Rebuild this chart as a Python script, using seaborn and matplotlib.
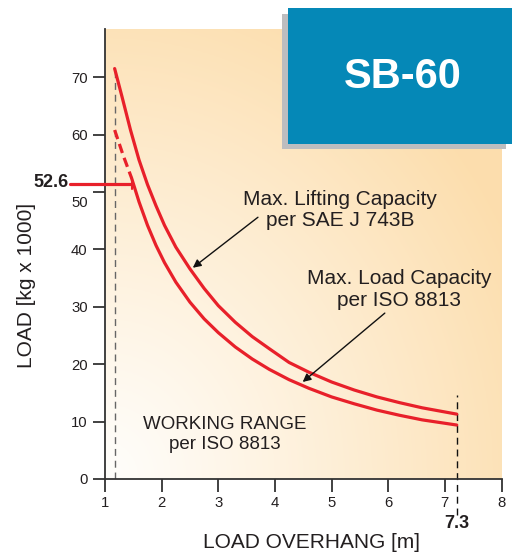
import numpy as np
import pandas as pd
import seaborn as sns
import matplotlib.pyplot as plt
import matplotlib.transforms as mtransforms
from matplotlib.patches import Rectangle

# values
sae_x = [1.17, 1.30, 1.45, 1.60, 1.75, 1.90, 2.05, 2.25, 2.50, 2.75, 3.00, 3.30,
         3.60, 3.90, 4.25, 4.60, 5.00, 5.40, 5.80, 6.20, 6.60, 7.21]
sae_y = [71.5, 66.6, 60.8, 55.6, 51.3, 47.6, 44.2, 40.4, 36.6, 33.2, 30.2, 27.3,
         24.8, 22.7, 20.3, 18.6, 16.9, 15.5, 14.3, 13.3, 12.4, 11.3]

iso_dash_x = [1.17, 1.32, 1.47]
iso_dash_y = [60.8, 56.4, 52.4]
iso_x = [1.47, 1.60, 1.75, 1.90, 2.05, 2.25, 2.50, 2.75, 3.00, 3.30, 3.60, 3.90,
         4.25, 4.60, 5.00, 5.40, 5.80, 6.20, 6.60, 7.21]
iso_y = [52.4, 48.3, 44.2, 40.7, 37.7, 34.3, 30.8, 27.9, 25.5, 23.0, 20.9, 19.1,
         17.3, 15.8, 14.3, 13.1, 12.0, 11.1, 10.3, 9.4]

min_overhang = 1.17
max_overhang = 7.21
marked_load = 51.4
x_ticks = [1, 2, 3, 4, 5, 6, 7, 8]
y_ticks = [0, 10, 20, 30, 40, 50, 60, 70]

sae = pd.DataFrame({"x": sae_x, "y": sae_y})
iso = pd.DataFrame({"x": iso_x, "y": iso_y})
iso_dash = pd.DataFrame({"x": iso_dash_x, "y": iso_dash_y})

sns.set_style("ticks")
plt.rcParams['font.family'] = ['Liberation Sans', 'DejaVu Sans']

RED = "#E8202A"
TXT = "#231F20"

fig = plt.figure(figsize=(5.12, 5.56), dpi=100)
ax = fig.add_axes([0.2051, 0.1385, 0.7744, 0.8094])
ax.set_xlim(1, 8)
ax.set_ylim(0, 78.4)

# background gradient, white bottom-left to light orange top-right
u, v = np.meshgrid(np.linspace(0, 1, 200), np.linspace(0, 1, 200))
t = np.clip(np.sqrt(u ** 2 + v ** 2) / 1.15, 0, 1) ** 1.1
c0 = np.array([1.0, 0.995, 0.985])
c1 = np.array([0.99, 0.87, 0.68])
img = c0 + (c1 - c0) * t[..., None]
ax.imshow(img, extent=[1, 8, 0, 78.4], origin="lower", aspect="auto", zorder=0)

sns.lineplot(data=sae, x="x", y="y", sort=False, estimator=None, color=RED, lw=2.3, ax=ax, zorder=3)
sns.lineplot(data=iso, x="x", y="y", sort=False, estimator=None, color=RED, lw=2.3, ax=ax, zorder=3)
sns.lineplot(data=iso_dash, x="x", y="y", sort=False, estimator=None, color=RED, lw=2.3,
             ax=ax, zorder=3, linestyle=(0, (3, 1.6)))

# limit lines
ax.plot([min_overhang, min_overhang], [0, 71], color="#666666", lw=1, ls=(0, (5, 3.5)), zorder=2)
ax.plot([max_overhang, max_overhang], [-6.2, 14.6], color="#111111", lw=1, ls=(0, (5, 3.5)),
        zorder=2, clip_on=False)

# 52.6 marker
ax.plot([0.38, iso_dash_x[-1]], [marked_load, marked_load], color=RED, lw=2.3, clip_on=False, zorder=4)
ax.plot([iso_dash_x[-1], iso_dash_x[-1]], [marked_load - 0.8, marked_load + 0.8], color=RED, lw=1.5, zorder=4)
ax.text(0.35, marked_load + 0.3, "52.6", ha="right", va="center", fontsize=13, fontweight="bold",
        color=TXT, clip_on=False)
ax.text(max_overhang, -7.7, "7.3", ha="center", va="center", fontsize=13, fontweight="bold",
        color=TXT, clip_on=False)

ax.set_xticks(x_ticks)
ax.set_yticks(y_ticks)
ax.tick_params(axis="both", direction="out", length=9, width=1.3, color="#333333",
               labelsize=10.7, labelcolor=TXT, pad=3.5)
for s in ["top", "right"]:
    ax.spines[s].set_visible(False)
for s in ["left", "bottom"]:
    ax.spines[s].set_color("#333333")
    ax.spines[s].set_linewidth(1.3)

# "50" label sits a bit lower to make room for 52.6
for lab in ax.get_yticklabels():
    if lab.get_text() == "50":
        lab.set_transform(lab.get_transform() + mtransforms.ScaledTranslation(0, -10 / 100, fig.dpi_scale_trans))

ax.set_xlabel("LOAD OVERHANG [m]", fontsize=15, color=TXT)
ax.set_ylabel("LOAD [kg x 1000]", fontsize=15, color=TXT)
ax.yaxis.set_label_coords(-0.175, 0.43)
ax.xaxis.set_label_coords(0.52, -0.12)

# annotations
ax.text(5.15, 46.9, "Max. Lifting Capacity\nper SAE J 743B", ha="center", va="center",
        fontsize=15, color=TXT, linespacing=1.15)
ax.annotate("", xy=(2.55, 36.8), xytext=(3.70, 45.6),
            arrowprops=dict(arrowstyle="-|>", color="#111111", lw=1, mutation_scale=12,
                            shrinkA=0, shrinkB=0))
ax.text(6.19, 33.0, "Max. Load Capacity\nper ISO 8813", ha="center", va="center",
        fontsize=15, color=TXT, linespacing=1.15)
ax.annotate("", xy=(4.49, 16.9), xytext=(5.94, 28.9),
            arrowprops=dict(arrowstyle="-|>", color="#111111", lw=1, mutation_scale=12,
                            shrinkA=0, shrinkB=0))
ax.text(3.12, 7.8, "WORKING RANGE\nper ISO 8813", ha="center", va="center", fontsize=13.5,
        color=TXT, linespacing=1.2)

# model badge
fig.patches.append(Rectangle((0.551, 0.732), 0.437, 0.243, transform=fig.transFigure,
                             facecolor="#BDBDBF", edgecolor="none", zorder=5))
fig.patches.append(Rectangle((0.5625, 0.741), 0.45, 0.2446, transform=fig.transFigure,
                             facecolor="#0588B7", edgecolor="none", zorder=6))
fig.text(0.786, 0.862, "SB-60", ha="center", va="center", fontsize=30, fontweight="bold",
         color="white", zorder=7)

plt.savefig("out.png", dpi=100)
